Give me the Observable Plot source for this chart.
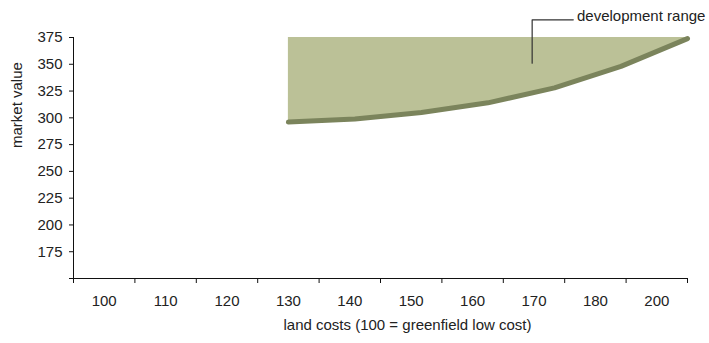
<!DOCTYPE html>
<html>
<head>
<meta charset="utf-8">
<script src="https://cdn.jsdelivr.net/npm/d3@7"></script>
<script src="https://cdn.jsdelivr.net/npm/@observablehq/plot@0.6"></script>
<style>
  html, body { margin: 0; padding: 0; background: #fff; }
</style>
</head>
<body>
<div id="chart"></div>
<script>
// Primary category axis (note: Excel-style labels, 190 absent)
const categories = ["100", "110", "120", "130", "140", "150", "160", "170", "180", "200"];
// Y axis ticks
const yTicks = [150, 175, 200, 225, 250, 275, 300, 325, 350, 375];
// Development range series (secondary category axis)
const rangeLand = ["130", "140", "150", "160", "170", "180", "200"];
const marketValue = [296, 299, 305, 314, 328, 348, 374];
const rangeTop = 375;
// Annotation
const annotationText = "development range";
const leaderX = [7.47, 7.47, 8.14];
const leaderY = [351, 391.5, 391.5];
const annotationPos = { x: 8.2, y: 395 };

// secondary axis: starts at centre of the "130" band, ends at the right edge
const start = categories.indexOf(rangeLand[0]) + 0.5;
const end = categories.length;
const range = rangeLand.map((land, i) => ({
  land,
  value: marketValue[i],
  pos: start + i * (end - start) / (rangeLand.length - 1)
}));
const leader = leaderX.map((x, i) => ({ x, y: leaderY[i] }));

const font = "'Liberation Sans', Arial, sans-serif";
const fs = 15;

const chart = Plot.plot({
  width: 709,
  height: 343,
  marginLeft: 73,
  marginRight: 22,
  marginTop: 37,
  marginBottom: 65,
  style: { fontFamily: font, fontSize: fs + "px", color: "#222", background: "#fff" },
  x: { type: "linear", domain: [0, categories.length] },
  y: { domain: [150, 375] },
  marks: [
    Plot.areaY(range, { x: "pos", y1: "value", y2: rangeTop, fill: "#bbc197" }),
    Plot.line(range, { x: "pos", y: "value", stroke: "#7b845c", strokeWidth: 5 }),
    Plot.axisY({
      ticks: yTicks, tickSize: 4, tickPadding: 7, label: null,
      tickFormat: d => (d === 150 ? "" : d), fontSize: fs, stroke: "#111", fill: "#222"
    }),
    Plot.axisX({
      ticks: d3.range(categories.length + 1), tickSize: 5, tickFormat: () => "",
      label: null, stroke: "#111"
    }),
    Plot.axisX({
      ticks: categories.map((c, i) => i + 0.5), tickSize: 0, tickPadding: 17,
      tickFormat: d => categories[Math.floor(d)], label: null, fontSize: fs, fill: "#222"
    }),
    Plot.ruleX([0], { stroke: "#111" }),
    Plot.ruleY([150], { stroke: "#111" }),
    Plot.text(["market value"], {
      frameAnchor: "left", rotate: -90, dx: -56, dy: -10, fontSize: fs, fill: "#222"
    }),
    Plot.text(["land costs (100 = greenfield low cost)"], {
      frameAnchor: "bottom", dx: 27, dy: 51, fontSize: fs, fill: "#222"
    }),
    Plot.line(leader, { x: "x", y: "y", stroke: "#333", strokeWidth: 1.2 }),
    Plot.text([annotationText], {
      x: annotationPos.x, y: annotationPos.y, textAnchor: "start", fontSize: fs, fill: "#222"
    })
  ]
});
document.getElementById("chart").appendChild(chart);
</script>
</body>
</html>
